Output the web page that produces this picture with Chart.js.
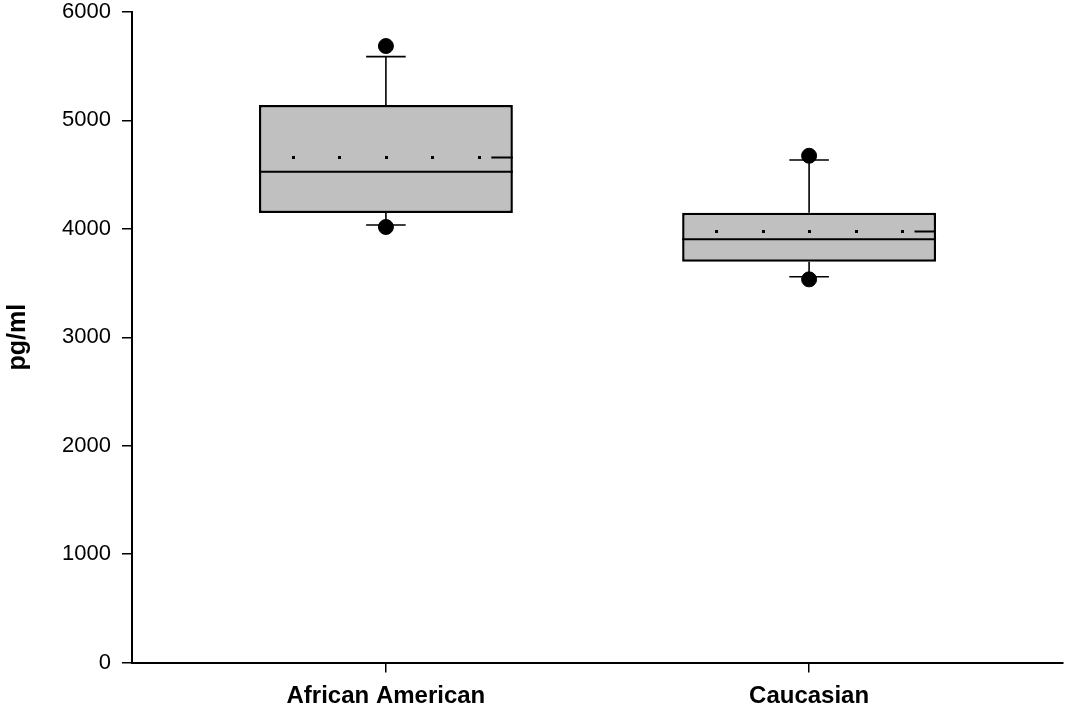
<!DOCTYPE html>
<html>
<head>
<meta charset="utf-8">
<title>pg/ml box plot</title>
<script src="https://cdn.jsdelivr.net/npm/chart.js@4/dist/chart.umd.min.js"></script>
<style>
  html, body { margin: 0; padding: 0; background: #fff; }
  #wrap { width: 1066px; height: 712px; }
</style>
</head>
<body>
<div id="wrap"><canvas id="boxChart"></canvas></div>
<script>
// values
const categories = ["African American", "Caucasian"];
const q1 = [4146, 3697];
const q3 = [5142, 4149];
const median = [4527, 3903];
const mean = [4662, 3980];
const whiskerLow = [4035, 3558];
const whiskerHigh = [5588, 4635];
const outlierLow = [4017, 3534];
const outlierHigh = [5686, 4674];
const yTicks = [0, 1000, 2000, 3000, 4000, 5000, 6000];

const FONT = "'Liberation Sans', Arial, sans-serif";

// whiskers + caps, drawn behind the boxes
const whiskerPlugin = {
    id: "whiskers",
    beforeDatasetsDraw(chart) {
        const meta = chart.getDatasetMeta(0);
        const y = chart.scales.y;
        const ctx = chart.ctx;
        ctx.save();
        ctx.strokeStyle = "#000";
        ctx.lineWidth = 1.6;
        meta.data.forEach((bar, i) => {
            const cx = bar.x;
            const capHalf = bar.width * 0.078;
            const lo = y.getPixelForValue(whiskerLow[i]);
            const hi = y.getPixelForValue(whiskerHigh[i]);
            ctx.beginPath();
            ctx.moveTo(cx, lo);
            ctx.lineTo(cx, y.getPixelForValue(q1[i]));
            ctx.moveTo(cx, hi);
            ctx.lineTo(cx, y.getPixelForValue(q3[i]));
            ctx.moveTo(cx - capHalf, lo);
            ctx.lineTo(cx + capHalf, lo);
            ctx.moveTo(cx - capHalf, hi);
            ctx.lineTo(cx + capHalf, hi);
            ctx.stroke();
        });
        ctx.restore();
    },
    // median + dotted mean line, right after the boxes
    afterDatasetDraw(chart, args) {
        if (args.index !== 0) return;
        const y = chart.scales.y;
        const ctx = chart.ctx;
        ctx.save();
        ctx.strokeStyle = "#000";
        ctx.fillStyle = "#000";
        args.meta.data.forEach((bar, i) => {
            const half = bar.width / 2;
            const left = bar.x - half, right = bar.x + half;
            const my = y.getPixelForValue(median[i]);
            ctx.lineWidth = 2;
            ctx.beginPath();
            ctx.moveTo(left, my);
            ctx.lineTo(right, my);
            ctx.stroke();

            const av = Math.round(y.getPixelForValue(mean[i]));
            for (let k = -2; k <= 2; k++) {
                const dx = Math.round(bar.x + k * bar.width * 0.183);
                ctx.fillRect(dx - 1, av - 1, 3, 3);
            }
            ctx.beginPath();
            ctx.moveTo(bar.x + bar.width * 0.415, av + 0.5);
            ctx.lineTo(right, av + 0.5);
            ctx.stroke();
        });
        ctx.restore();
    }
};

const boxData = categories.map((c, i) => ({ x: i + 1, y: [q1[i], q3[i]] }));
const pointData = categories.flatMap((c, i) => [
    { x: i + 1, y: outlierLow[i] },
    { x: i + 1, y: outlierHigh[i] }
]);

new Chart(document.getElementById("boxChart"), {
    type: "bar",
    data: {
        datasets: [
            {
                type: "bar",
                data: boxData,
                backgroundColor: "#c0c0c0",
                borderColor: "#000",
                borderWidth: 2.5,
                borderSkipped: false,
                categoryPercentage: 1,
                barPercentage: 0.6,
                order: 2
            },
            {
                type: "scatter",
                data: pointData,
                backgroundColor: "#000",
                borderColor: "#000",
                pointRadius: 7.5,
                order: 1
            }
        ]
    },
    options: {
        responsive: true,
        maintainAspectRatio: false,
        animation: false,
        layout: { autoPadding: false, padding: { top: 0, right: 3, left: 0, bottom: 0 } },
        plugins: {
            legend: { display: false },
            tooltip: { enabled: false }
        },
        scales: {
            x: {
                type: "linear",
                min: 0.4,
                max: 2.6,
                offset: false,
                afterBuildTicks: s => { s.ticks = categories.map((c, i) => ({ value: i + 1 })); },
                afterFit: s => { s.height = 49.5; },
                grid: { offset: false, drawOnChartArea: false, drawTicks: true, tickLength: 10, color: "#000", lineWidth: 1.5 },
                border: { display: true, color: "#000", width: 2 },
                ticks: {
                    callback: v => categories[v - 1],
                    color: "#000",
                    padding: 9,
                    maxRotation: 0,
                    font: { family: FONT, size: 24, weight: "bold" }
                }
            },
            y: {
                min: 0,
                max: 6000,
                afterBuildTicks: s => { s.ticks = yTicks.map(v => ({ value: v })); },
                afterFit: s => { s.width = 132; s.paddingTop = 12; s.paddingBottom = 0; },
                grid: { drawOnChartArea: false, drawTicks: true, tickLength: 10, color: "#000", lineWidth: 1.5 },
                border: { display: true, color: "#000", width: 2 },
                ticks: {
                    callback: v => String(v),
                    color: "#000",
                    padding: 11,
                    font: { family: FONT, size: 22, lineHeight: 1.1 }
                },
                title: {
                    display: true,
                    text: "pg/ml",
                    color: "#000",
                    padding: { top: 3, bottom: 0 },
                    font: { family: FONT, size: 25, weight: "bold" }
                }
            }
        }
    },
    plugins: [whiskerPlugin]
});
</script>
</body>
</html>
